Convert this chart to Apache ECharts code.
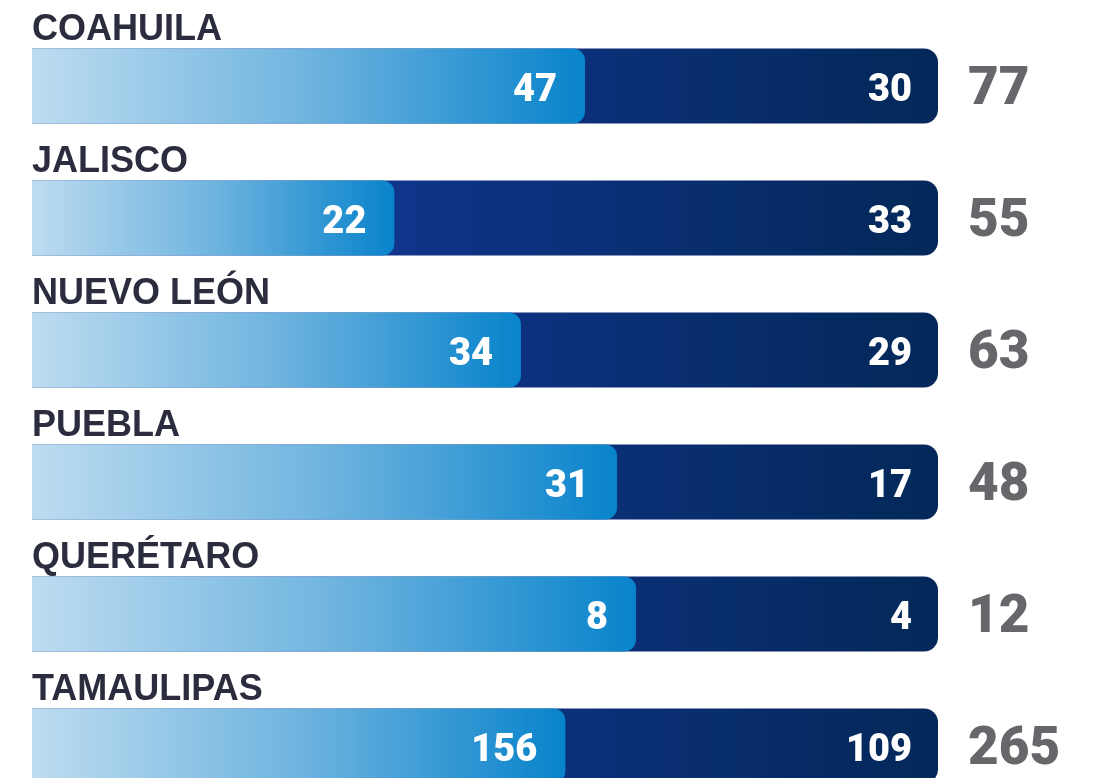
<!DOCTYPE html>
<html>
<head>
<meta charset="utf-8">
<script src="https://cdn.jsdelivr.net/npm/echarts@6/dist/echarts.min.js"></script>
<style>
  html, body { margin: 0; padding: 0; background: #fff; }
  #chart { width: 1102px; height: 778px; }
</style>
</head>
<body>
<div id="chart"></div>
<script>
const states = ['COAHUILA', 'JALISCO', 'NUEVO LEÓN', 'PUEBLA', 'QUERÉTARO', 'TAMAULIPAS'];
const lightValues = [47, 22, 34, 31, 8, 156];
const darkValues = [30, 33, 29, 17, 4, 109];
const totals = [77, 55, 63, 48, 12, 265];

const chart = echarts.init(document.getElementById('chart'));

// share of the light part, in percent of the full bar
const lightShare = lightValues.map((v, i) => v / totals[i] * 100);
const full = states.map(() => 100);

const numFont = 'Roboto, "Liberation Sans", sans-serif';

chart.setOption({
    animation: false,
    grid: {left: 32, right: 164, top: 20, height: 792, containLabel: false, outerBoundsMode: 'none'},
    xAxis: {type: 'value', min: 0, max: 100, show: false},
    yAxis: {
        type: 'category',
        data: states,
        inverse: true,
        show: false
    },
    series: [{
        // dark part, drawn full width behind
        type: 'bar',
        data: full,
        barWidth: 75,
        barGap: '-100%',
        itemStyle: {
            borderRadius: [0, 14, 14, 0],
            color: new echarts.graphic.LinearGradient(0, 0, 1, 0, [
                {offset: 0, color: '#1b3f9c'},
                {offset: 0.4, color: '#10348a'},
                {offset: 1, color: '#032858'}
            ])
        },
        label: {
            show: true,
            position: 'insideRight',
            distance: 26,
            offset: [0, 5],
            formatter: p => darkValues[p.dataIndex],
            color: '#fff',
            fontFamily: numFont,
            fontWeight: 900,
            fontSize: 38
        }
    }, {
        // light part on top
        type: 'bar',
        data: lightShare,
        barWidth: 75,
        barGap: '-100%',
        itemStyle: {
            borderRadius: [0, 12, 12, 0],
            color: new echarts.graphic.LinearGradient(0, 0, 1, 0, [
                {offset: 0, color: '#bddcf0'},
                {offset: 0.5, color: '#6fb4df'},
                {offset: 1, color: '#0883cb'}
            ])
        },
        label: {
            show: true,
            position: 'insideRight',
            distance: 28,
            offset: [0, 5],
            formatter: p => lightValues[p.dataIndex],
            color: '#fff',
            fontFamily: numFont,
            fontWeight: 900,
            fontSize: 38
        }
    }, {
        // invisible bar carrying the state name above and the total to the right
        type: 'bar',
        data: full,
        barWidth: 75,
        barGap: '-100%',
        silent: true,
        itemStyle: {color: 'rgba(0,0,0,0)'},
        label: {
            show: true,
            position: [0, -18],
            align: 'left',
            verticalAlign: 'middle',
            formatter: p => states[p.dataIndex],
            color: '#2b2d3e',
            fontFamily: '"Liberation Sans", Arial, sans-serif',
            fontWeight: 'bold',
            fontSize: 36
        }
    }, {
        type: 'bar',
        data: full,
        barWidth: 75,
        barGap: '-100%',
        silent: true,
        itemStyle: {color: 'rgba(0,0,0,0)'},
        label: {
            show: true,
            position: 'right',
            distance: 30,
            offset: [0, 5],
            formatter: p => totals[p.dataIndex],
            color: '#67676b',
            fontFamily: numFont,
            fontWeight: 900,
            fontSize: 53
        }
    }]
});
</script>
</body>
</html>
